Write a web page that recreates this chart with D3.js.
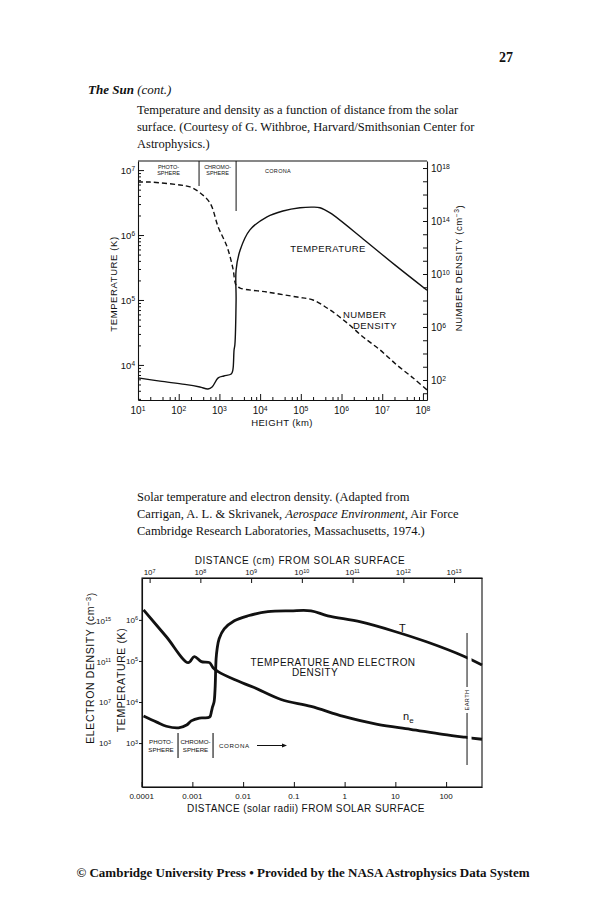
<!DOCTYPE html>
<html>
<head>
<meta charset="utf-8">
<script src="https://cdn.jsdelivr.net/npm/d3@7"></script>
<style>
body { margin: 0; background: #fff; }
svg text { fill: #111; }
.serif { font-family: "Liberation Serif", "Times New Roman", serif; }
.sans { font-family: "Liberation Sans", Arial, sans-serif; }
</style>
</head>
<body>
<svg id="page" width="602" height="900"></svg>
<script>
// ---- chart 1 (Withbroe): log10 height (km) vs log10 T (K) and log10 n (cm^-3)
var tempHeight1 = [1.0, 1.54, 2.15, 2.52, 2.72, 2.82, 2.97, 3.11, 3.29, 3.33, 3.36, 3.38, 3.41, 3.41, 3.51, 3.75, 4.17, 4.56, 4.98, 5.30, 5.47, 5.72, 6.53, 7.31, 8.10];
var tempValue1  = [3.80, 3.75, 3.70, 3.66, 3.63, 3.66, 3.80, 3.83, 3.86, 3.92, 4.23, 4.31, 5.00, 5.46, 5.77, 6.08, 6.28, 6.37, 6.42, 6.43, 6.42, 6.34, 5.94, 5.54, 5.15];
var densHeight1 = [1.0, 1.29, 2.03, 2.28, 2.50, 2.77, 2.97, 3.19, 3.33, 3.41, 3.51, 4.17, 4.91, 5.30, 5.72, 6.14, 6.53, 6.95, 7.36, 7.76, 8.10];
var densValue1  = [16.94, 16.94, 16.72, 16.57, 16.19, 15.36, 13.55, 12.04, 10.45, 9.17, 8.94, 8.64, 8.26, 8.04, 7.28, 6.30, 5.25, 4.26, 3.13, 2.15, 1.25];
var heightTicks1 = [1, 2, 3, 4, 5, 6, 7, 8];
var tempTicks1 = [4, 5, 6, 7];
var densTicks1 = [2, 6, 10, 14, 18];
var regionBounds1 = [2.5, 3.41];   // photosphere | chromosphere | corona, log km

// ---- chart 2 (Carrigan & Skrivanek): log10 distance (cm) vs log10 n_e and log10 T
var densDist2 = [6.88, 7.33, 7.76, 7.88, 8.02, 8.18, 8.25, 8.35, 8.67, 9.06, 9.59, 10.18, 10.82, 11.49, 12.14, 12.78, 13.22, 13.55];
var densValue2 = [16.07, 13.44, 10.90, 11.49, 11.00, 10.90, 10.41, 10.02, 9.24, 8.46, 7.29, 6.61, 5.63, 4.85, 4.37, 3.88, 3.59, 3.39];
var tempDist2 = [6.88, 7.14, 7.33, 7.57, 7.73, 7.82, 7.98, 8.18, 8.22, 8.24, 8.27, 8.29, 8.31, 8.33, 8.37, 8.47, 8.67, 8.94, 9.33, 9.78, 10.18, 10.51, 11.16, 11.80, 12.47, 13.18, 13.55];
var tempValue2 = [3.66, 3.51, 3.41, 3.37, 3.44, 3.54, 3.61, 3.63, 3.78, 3.88, 4.00, 4.32, 5.05, 5.29, 5.54, 5.78, 5.98, 6.10, 6.20, 6.22, 6.22, 6.10, 5.95, 5.73, 5.46, 5.12, 4.90];
var cmTicks2 = [7, 8, 9, 10, 11, 12, 13];
var radiiTicks2 = [0.0001, 0.001, 0.01, 0.1, 1, 10, 100];
var radiiLabels2 = ["0.0001", "0.001", "0.01", "0.1", "1", "10", "100"];
var tempTicks2 = [3, 4, 5, 6];
var densTicks2 = [3, 7, 11, 15];
var regionBounds2 = [7.56, 8.25];   // log cm
var solarRadius = 6.96e10;          // cm
var earthDist = 1.8e13;             // cm, as drawn

var svg = d3.select("#page");
var p = function(v) { return Math.pow(10, v); };

function sup(sel, exp) {
  sel.append("tspan").text("10");
  sel.append("tspan").attr("dy", "-0.45em").attr("font-size", "0.68em").text(exp);
}

// ---------------- page text ----------------
svg.append("text").attr("class", "serif").attr("x", 513).attr("y", 62)
  .attr("text-anchor", "end").attr("font-size", 14).attr("font-weight", "bold").text("27");

var head = svg.append("text").attr("class", "serif").attr("x", 88).attr("y", 94).attr("font-size", 13);
head.append("tspan").attr("font-weight", "bold").attr("font-style", "italic").text("The Sun ");
head.append("tspan").attr("font-style", "italic").text("(cont.)");

var cap1 = ["Temperature and density as a function of distance from the solar",
            "surface. (Courtesy of G. Withbroe, Harvard/Smithsonian Center for",
            "Astrophysics.)"];
svg.append("g").selectAll("text").data(cap1).enter().append("text")
  .attr("class", "serif").attr("font-size", 12.5)
  .attr("x", 137).attr("y", function(d, i) { return 114 + i * 17; }).text(function(d) { return d; });

var cap2 = svg.append("g").attr("class", "serif").attr("font-size", 12.5);
cap2.append("text").attr("x", 137).attr("y", 501).text("Solar temperature and electron density. (Adapted from");
var c2 = cap2.append("text").attr("x", 137).attr("y", 518);
c2.append("tspan").text("Carrigan, A. L. & Skrivanek, ");
c2.append("tspan").attr("font-style", "italic").text("Aerospace Environment");
c2.append("tspan").text(", Air Force");
cap2.append("text").attr("x", 137).attr("y", 535).text("Cambridge Research Laboratories, Massachusetts, 1974.)");

svg.append("text").attr("class", "serif").attr("x", 303).attr("y", 877)
  .attr("text-anchor", "middle").attr("font-size", 13).attr("font-weight", "bold")
  .text("\u00A9 Cambridge University Press \u2022 Provided by the NASA Astrophysics Data System");

// ---------------- chart 1 ----------------
var L1 = 138, R1 = 427, T1 = 161, B1 = 400;
var x1 = d3.scaleLog().domain([p(1), p(8.1)]).range([L1, R1]);
var yT1 = d3.scaleLog().domain([p(3.46), p(7.14)]).range([B1, T1]);
var yN1 = d3.scaleLog().domain([p(0.49), p(18.53)]).range([B1, T1]);

var g1 = svg.append("g").attr("class", "sans");

function minors(lo, hi) {
  var out = [];
  for (var e = lo; e <= hi; e++) for (var m = 2; m <= 9; m++) out.push(m * p(e));
  return out;
}
function styleAxis(g) {
  g.selectAll("path").attr("stroke", "#111").attr("stroke-width", 1.1);
  g.selectAll("line").attr("stroke", "#111").attr("stroke-width", 1);
}

// bottom axis
g1.append("g").attr("transform", "translate(0," + B1 + ")")
  .call(d3.axisBottom(x1).tickValues(heightTicks1.map(p)).tickSizeInner(-6).tickSizeOuter(0).tickFormat(""))
  .call(styleAxis);
g1.append("g").attr("transform", "translate(0," + B1 + ")")
  .call(d3.axisBottom(x1).tickValues(minors(1, 7).filter(function(v, i) { return i % 2 === 0; })).tickSize(-3).tickFormat(""))
  .call(styleAxis).select(".domain").remove();
// left axis
g1.append("g").attr("transform", "translate(" + L1 + ",0)")
  .call(d3.axisLeft(yT1).tickValues(tempTicks1.map(p)).tickSizeInner(-6).tickSizeOuter(0).tickFormat(""))
  .call(styleAxis);
g1.append("g").attr("transform", "translate(" + L1 + ",0)")
  .call(d3.axisLeft(yT1).tickValues(minors(3, 6).filter(function(v) { return v > p(3.46) && v < p(7.14); })).tickSize(-3).tickFormat(""))
  .call(styleAxis).select(".domain").remove();
// right axis
var decades = d3.range(1, 19).map(p);
g1.append("g").attr("transform", "translate(" + R1 + ",0)")
  .call(d3.axisRight(yN1).tickValues(decades).tickSizeInner(-4).tickSizeOuter(0).tickFormat(""))
  .call(styleAxis);
// top frame line
g1.append("line").attr("x1", L1).attr("x2", R1).attr("y1", T1).attr("y2", T1)
  .attr("stroke", "#111").attr("stroke-width", 1.1);

// tick labels
g1.selectAll(".xl").data(heightTicks1).enter().append("text")
  .attr("x", function(d) { return x1(p(d)); }).attr("y", 414).attr("text-anchor", "middle")
  .attr("font-size", 10).each(function(d) { sup(d3.select(this), d); });
g1.selectAll(".yl").data(tempTicks1).enter().append("text")
  .attr("x", 135).attr("y", function(d) { return yT1(p(d)) + 4; }).attr("text-anchor", "end")
  .attr("font-size", 9.5).each(function(d) { sup(d3.select(this), d); });
g1.selectAll(".nl").data(densTicks1).enter().append("text")
  .attr("x", 431).attr("y", function(d) { return yN1(p(d)) + 4; }).attr("text-anchor", "start")
  .attr("font-size", 10).each(function(d) { sup(d3.select(this), d); });

// axis titles
g1.append("text").attr("transform", "translate(" + 282 + ",426)").attr("text-anchor", "middle")
  .attr("font-size", 9.5).attr("letter-spacing", 0.4).text("HEIGHT (km)");
g1.append("text").attr("transform", "translate(117,284) rotate(-90)").attr("text-anchor", "middle")
  .attr("font-size", 9.5).attr("letter-spacing", 0.6).text("TEMPERATURE (K)");
var nt = g1.append("text").attr("transform", "translate(462,268) rotate(-90)").attr("text-anchor", "middle")
  .attr("font-size", 9.5).attr("letter-spacing", 0.6);
nt.append("tspan").text("NUMBER DENSITY (cm");
nt.append("tspan").attr("dy", "-0.45em").attr("font-size", "0.7em").text("\u22123");
nt.append("tspan").attr("dy", "0.45em").text(")");

// region separators
g1.append("line").attr("x1", x1(p(regionBounds1[0]))).attr("x2", x1(p(regionBounds1[0])))
  .attr("y1", T1).attr("y2", 186).attr("stroke", "#111");
g1.append("line").attr("x1", x1(p(regionBounds1[1]))).attr("x2", x1(p(regionBounds1[1])))
  .attr("y1", T1).attr("y2", 211).attr("stroke", "#111");
var reg1 = [["PHOTO-", "SPHERE", (L1 + x1(p(regionBounds1[0]))) / 2],
            ["CHROMO-", "SPHERE", (x1(p(regionBounds1[0])) + x1(p(regionBounds1[1]))) / 2]];
reg1.forEach(function(r) {
  g1.append("text").attr("x", r[2]).attr("y", 169).attr("text-anchor", "middle").attr("font-size", 5.5).text(r[0]);
  g1.append("text").attr("x", r[2]).attr("y", 175).attr("text-anchor", "middle").attr("font-size", 5.5).text(r[1]);
});
g1.append("text").attr("x", 278).attr("y", 173).attr("text-anchor", "middle").attr("font-size", 5.5)
  .attr("letter-spacing", 0.3).text("CORONA");

// curves
var lineT1 = d3.line().curve(d3.curveCatmullRom.alpha(0.5))
  .x(function(d) { return x1(p(d[0])); }).y(function(d) { return yT1(p(d[1])); });
var lineN1 = d3.line().curve(d3.curveCatmullRom.alpha(0.5))
  .x(function(d) { return x1(p(d[0])); }).y(function(d) { return yN1(p(d[1])); });
g1.append("path").datum(d3.zip(tempHeight1, tempValue1)).attr("d", lineT1)
  .attr("fill", "none").attr("stroke", "#111").attr("stroke-width", 1.4);
g1.append("path").datum(d3.zip(densHeight1, densValue1)).attr("d", lineN1)
  .attr("fill", "none").attr("stroke", "#111").attr("stroke-width", 1.4).attr("stroke-dasharray", "5,3");

g1.append("text").attr("x", 328).attr("y", 252).attr("text-anchor", "middle").attr("font-size", 9.5)
  .attr("letter-spacing", 0.4).text("TEMPERATURE");
g1.append("text").attr("x", 343).attr("y", 318).attr("font-size", 9.5).attr("letter-spacing", 0.4).text("NUMBER");
g1.append("text").attr("x", 353).attr("y", 329).attr("font-size", 9.5).attr("letter-spacing", 0.4).text("DENSITY");

// ---------------- chart 2 ----------------
var L2 = 142, R2 = 482, T2 = 578, B2 = 787;
var xd = d3.scaleLog().domain([p(6.85), p(13.55)]).range([L2, R2]);
var yT2 = d3.scaleLog().domain([p(1.93), p(7.02)]).range([B2, T2]);
var yN2 = d3.scaleLog().domain([p(-1.29), p(19.2)]).range([B2, T2]);

var g2 = svg.append("g").attr("class", "sans");
g2.append("rect").attr("x", L2).attr("y", T2).attr("width", R2 - L2).attr("height", B2 - T2)
  .attr("fill", "none").attr("stroke", "#111").attr("stroke-width", 1.1);

g2.append("g").attr("transform", "translate(0," + T2 + ")")
  .call(d3.axisTop(xd).tickValues(cmTicks2.map(p)).tickSizeInner(-5).tickSizeOuter(0).tickFormat(""))
  .call(styleAxis);
g2.append("g").attr("transform", "translate(0," + B2 + ")")
  .call(d3.axisBottom(xd).tickValues(radiiTicks2.map(function(v) { return v * solarRadius; }))
    .tickSizeInner(-5).tickSizeOuter(0).tickFormat(""))
  .call(styleAxis);
g2.append("g").attr("transform", "translate(" + L2 + ",0)")
  .call(d3.axisLeft(yT2).tickValues(tempTicks2.map(p)).tickSizeInner(3).tickSizeOuter(0).tickFormat(""))
  .call(styleAxis);

g2.selectAll(".tl").data(cmTicks2).enter().append("text")
  .attr("x", function(d) { return xd(p(d)); }).attr("y", 575).attr("text-anchor", "middle")
  .attr("font-size", 8).each(function(d) { sup(d3.select(this), d); });
g2.selectAll(".bl").data(radiiTicks2).enter().append("text")
  .attr("x", function(d) { return xd(d * solarRadius); }).attr("y", 799).attr("text-anchor", "middle")
  .attr("font-size", 8).text(function(d, i) { return radiiLabels2[i]; });
g2.selectAll(".ltl").data(tempTicks2).enter().append("text")
  .attr("x", 138).attr("y", function(d) { return yT2(p(d)) + 3; }).attr("text-anchor", "end")
  .attr("font-size", 8).each(function(d) { sup(d3.select(this), d); });
g2.selectAll(".ndl").data(densTicks2).enter().append("text")
  .attr("x", 111).attr("y", function(d) { return yN2(p(d)) + 3; }).attr("text-anchor", "end")
  .attr("font-size", 8).each(function(d) { sup(d3.select(this), d); });

g2.append("text").attr("x", 300).attr("y", 564).attr("text-anchor", "middle").attr("font-size", 10)
  .attr("letter-spacing", 0.6).text("DISTANCE (cm) FROM SOLAR SURFACE");
g2.append("text").attr("x", 306).attr("y", 812).attr("text-anchor", "middle").attr("font-size", 10)
  .attr("letter-spacing", 0.4).text("DISTANCE (solar radii) FROM SOLAR SURFACE");
g2.append("text").attr("transform", "translate(125,680) rotate(-90)").attr("text-anchor", "middle")
  .attr("font-size", 10.5).attr("letter-spacing", 0.6).text("TEMPERATURE (K)");
var et = g2.append("text").attr("transform", "translate(94,668) rotate(-90)").attr("text-anchor", "middle")
  .attr("font-size", 10.5).attr("letter-spacing", 0.6);
et.append("tspan").text("ELECTRON DENSITY (cm");
et.append("tspan").attr("dy", "-0.45em").attr("font-size", "0.7em").text("\u22123");
et.append("tspan").attr("dy", "0.45em").text(")");

// curves
var lineT2 = d3.line().curve(d3.curveCatmullRom.alpha(0.5))
  .x(function(d) { return xd(p(d[0])); }).y(function(d) { return yT2(p(d[1])); });
var lineN2 = d3.line().curve(d3.curveCatmullRom.alpha(0.5))
  .x(function(d) { return xd(p(d[0])); }).y(function(d) { return yN2(p(d[1])); });
g2.append("path").datum(d3.zip(densDist2, densValue2)).attr("d", lineN2)
  .attr("fill", "none").attr("stroke", "#111").attr("stroke-width", 2.8).attr("stroke-linejoin", "round");
g2.append("path").datum(d3.zip(tempDist2, tempValue2)).attr("d", lineT2)
  .attr("fill", "none").attr("stroke", "#111").attr("stroke-width", 2.8).attr("stroke-linejoin", "round");

// earth marker
var ex = xd(earthDist);
g2.append("rect").attr("x", ex + 0.5).attr("y", 640).attr("width", 4).attr("height", 110).attr("fill", "#fff");
g2.append("line").attr("x1", ex).attr("x2", ex).attr("y1", 633).attr("y2", 765).attr("stroke", "#111").attr("stroke-width", 1);
g2.append("rect").attr("x", ex - 3).attr("y", 687).attr("width", 6).attr("height", 26).attr("fill", "#fff");
g2.append("text").attr("transform", "translate(" + (ex + 2) + ",700) rotate(-90)").attr("text-anchor", "middle")
  .attr("font-size", 5.5).attr("letter-spacing", 0.5).text("EARTH");

// region labels
[0, 1].forEach(function(i) {
  var bx = xd(p(regionBounds2[i]));
  g2.append("line").attr("x1", bx).attr("x2", bx).attr("y1", 733).attr("y2", 758).attr("stroke", "#111").attr("stroke-width", 1.1);
});
var b0 = xd(p(regionBounds2[0])), b1 = xd(p(regionBounds2[1]));
[["PHOTO-", "SPHERE", (L2 + b0) / 2 + 1], ["CHROMO-", "SPHERE", (b0 + b1) / 2]].forEach(function(r) {
  g2.append("text").attr("x", r[2]).attr("y", 744).attr("text-anchor", "middle").attr("font-size", 6.2).text(r[0]);
  g2.append("text").attr("x", r[2]).attr("y", 752).attr("text-anchor", "middle").attr("font-size", 6.2).text(r[1]);
});
g2.append("text").attr("x", b1 + 6).attr("y", 748).attr("font-size", 6.2).attr("letter-spacing", 0.6).text("CORONA");
g2.append("line").attr("x1", 257).attr("x2", 282).attr("y1", 745.5).attr("y2", 745.5).attr("stroke", "#111");
g2.append("path").attr("d", "M282,743.5 L287,745.5 L282,747.5 Z").attr("fill", "#111");

g2.append("text").attr("x", 399).attr("y", 632).attr("font-size", 11).text("T");
var ne = g2.append("text").attr("x", 403).attr("y", 720).attr("font-size", 11);
ne.append("tspan").text("n");
ne.append("tspan").attr("dy", "3").attr("font-size", 8).text("e");
g2.append("text").attr("x", 333).attr("y", 666).attr("text-anchor", "middle").attr("font-size", 10)
  .attr("letter-spacing", 0.4).text("TEMPERATURE AND ELECTRON");
g2.append("text").attr("x", 315).attr("y", 676).attr("text-anchor", "middle").attr("font-size", 10)
  .attr("letter-spacing", 0.4).text("DENSITY");
</script>
</body>
</html>
